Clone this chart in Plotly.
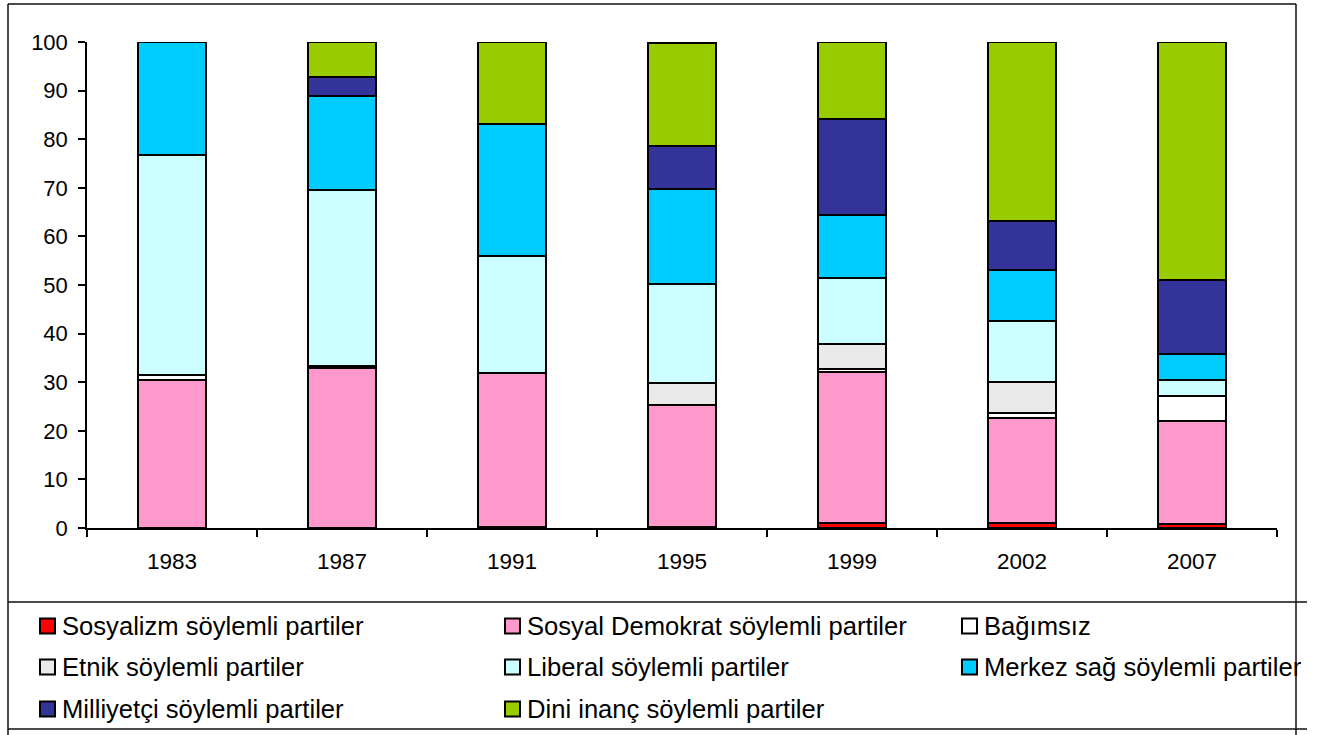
import plotly.graph_objects as go

years = ["1983", "1987", "1991", "1995", "1999", "2002", "2007"]

series_names = [
    "Sosyalizm söylemli partiler",
    "Sosyal Demokrat söylemli partiler",
    "Bağımsız",
    "Etnik söylemli partiler",
    "Liberal söylemli partiler",
    "Merkez sağ söylemli partiler",
    "Milliyetçi söylemli partiler",
    "Dini inanç söylemli partiler",
]

sosyalizm = [0.0, 0.0, 0.3, 0.2, 1.1, 1.0, 0.8]
sosyal_demokrat = [30.4, 32.9, 31.5, 25.2, 30.9, 21.7, 21.3]
bagimsiz = [1.0, 0.4, 0.0, 0.0, 0.8, 0.9, 5.1]
etnik = [0.0, 0.0, 0.0, 4.5, 5.0, 6.4, 0.0]
liberal = [45.3, 36.2, 24.2, 20.4, 13.6, 12.6, 3.3]
merkez_sag = [23.3, 19.4, 27.1, 19.4, 13.0, 10.5, 5.4]
milliyetci = [0.0, 3.9, 0.0, 8.8, 19.7, 10.1, 15.1]
dini = [0.0, 7.2, 16.9, 21.2, 15.8, 36.8, 49.0]

series_values = [sosyalizm, sosyal_demokrat, bagimsiz, etnik, liberal,
                 merkez_sag, milliyetci, dini]
colors = ["#FF0000", "#FF99CC", "#FFFFFF", "#EAEAEA", "#CCFFFF",
          "#00CCFF", "#333399", "#99CC00"]

W, H = 1332, 735
L, R, T, B = 87, 1277, 42, 528  # plot area pixel bounds

def px(x):
    return (x - L) / (R - L)

def py(y):
    return (B - y) / (B - T)

FONT = "Liberation Sans, Arial, sans-serif"

fig = go.Figure()
for name, vals, col in zip(series_names, series_values, colors):
    fig.add_trace(go.Bar(
        x=years, y=vals, name=name,
        marker=dict(color=col, line=dict(color="black", width=2)),
        width=0.4, showlegend=False,
    ))

shapes = []
line_style = dict(color="#111111", width=1.5)
# outer frame
shapes.append(dict(type="line", xref="paper", yref="paper", x0=px(8), x1=px(1296), y0=py(4), y1=py(4), line=line_style))
shapes.append(dict(type="line", xref="paper", yref="paper", x0=px(8), x1=px(8), y0=py(4), y1=py(735), line=line_style))
shapes.append(dict(type="line", xref="paper", yref="paper", x0=px(1296), x1=px(1296), y0=py(4), y1=py(735), line=line_style))
# legend box lines
shapes.append(dict(type="line", xref="paper", yref="paper", x0=px(8), x1=px(1307), y0=py(602), y1=py(602), line=line_style))
shapes.append(dict(type="line", xref="paper", yref="paper", x0=px(8), x1=px(1307), y0=py(729), y1=py(729), line=line_style))

annotations = []
col_x = [40, 505, 962]
row_y = [626, 667, 709]
msize = 15
for i, (name, col) in enumerate(zip(series_names, colors)):
    cx = col_x[i % 3]
    cy = row_y[i // 3]
    shapes.append(dict(type="rect", xref="paper", yref="paper",
                       x0=px(cx), x1=px(cx + msize),
                       y0=py(cy - msize / 2), y1=py(cy + msize / 2),
                       fillcolor=col, line=dict(color="black", width=2)))
    annotations.append(dict(xref="paper", yref="paper", x=px(cx + msize + 5), y=py(cy),
                            text=name, showarrow=False, xanchor="left", yanchor="middle",
                            font=dict(family=FONT, size=25.6, color="black")))

fig.update_layout(
    width=W, height=H,
    margin=dict(l=L, r=W - R, t=T, b=H - B, pad=0),
    paper_bgcolor="white", plot_bgcolor="white",
    barmode="stack", bargap=0.6,
    font=dict(family=FONT, size=22, color="black"),
    shapes=shapes, annotations=annotations,
    showlegend=False,
)
fig.update_xaxes(
    type="category", showline=True, linecolor="black", linewidth=1.5,
    ticks="outside", tickson="boundaries", ticklen=7, tickcolor="black", tickwidth=1.5,
    showgrid=False, zeroline=False, tickfont=dict(size=22.5), ticklabelstandoff=12,
)
fig.update_yaxes(
    range=[0, 100], dtick=10, showline=True, linecolor="black", linewidth=1.5,
    ticks="outside", ticklen=7, tickcolor="black", tickwidth=1.5,
    showgrid=False, zeroline=False, tickfont=dict(size=22), ticklabelstandoff=6,
)

fig.write_html("out.html", config={"displayModeBar": False},
               post_script="document.body.style.margin='0px';document.body.style.padding='0px';")
